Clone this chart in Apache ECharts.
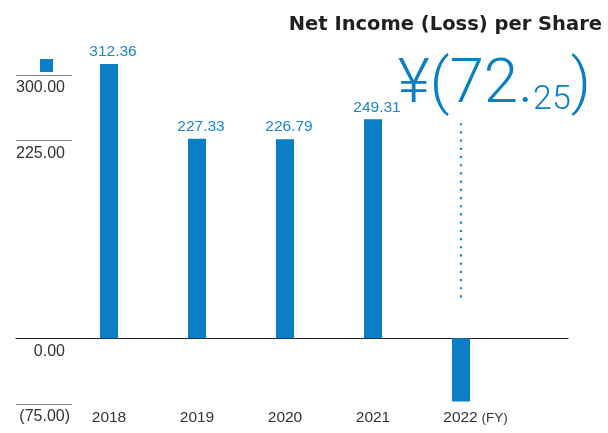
<!DOCTYPE html>
<html>
<head>
<meta charset="utf-8">
<script src="https://cdn.jsdelivr.net/npm/echarts@6/dist/echarts.min.js"></script>
<style>
html,body{margin:0;padding:0;background:#fff;}
#chart{width:608px;height:433px;}
</style>
</head>
<body>
<div id="chart"></div>
<script>
// ---- data ----
var categories = ['2018', '2019', '2020', '2021', '2022 (FY)'];
var netIncomePerShare = [312.36, 227.33, 226.79, 249.31, -72.25];
var yTickValues = [-75, 225, 300];
var yLabelValues = [-75, 0, 225, 300];
var headlineValue = -72.25;
var dottedRange = [245, 46];
var seriesName = 'Net Income (Loss) per Share';

var BLUE = '#0a7ec6';
var FONT = 'Liberation Sans, Arial, sans-serif';

function fmtAxis(v) {
  if (v < 0) return '(' + Math.abs(v).toFixed(2) + ')';
  return v.toFixed(2) + '{sp| }';
}

var absParts = Math.abs(headlineValue).toFixed(2).split('.');
var headlineText = '{a|¥' + (headlineValue < 0 ? '(' : '') + absParts[0] + '.}{b|' + absParts[1] + '}{a|' + (headlineValue < 0 ? ')' : '') + '}';

var chart = echarts.init(document.getElementById('chart'), null, {renderer: 'canvas'});

var option = {
  animation: false,
  title: [
    {
      text: seriesName,
      right: 1,
      top: 10,
      textStyle: {fontFamily: 'DejaVu Sans, sans-serif', fontSize: 19.5, fontWeight: 'bold', color: '#231f20'}
    },
    {
      text: headlineText,
      right: 12,
      top: 42,
      textStyle: {
        rich: {
          a: {fontFamily: 'Roboto, sans-serif', fontWeight: 300, fontSize: 62, color: BLUE, lineHeight: 70, verticalAlign: 'bottom'},
          b: {fontFamily: 'Roboto, sans-serif', fontWeight: 300, fontSize: 34, color: BLUE, lineHeight: 66, verticalAlign: 'bottom'}
        }
      }
    }
  ],
  legend: {
    data: [seriesName],
    left: 35,
    top: 54,
    icon: 'rect',
    itemWidth: 13,
    itemHeight: 13,
    formatter: function () { return ''; },
    selectedMode: false
  },
  grid: [
    {left: 65, right: 103, top: 31, bottom: 29},
    {left: 16, right: 40, top: 31, bottom: 29}
  ],
  xAxis: [
    {
      type: 'category',
      gridIndex: 0,
      data: categories,
      boundaryGap: true,
      axisLine: {show: false, onZero: false},
      axisTick: {show: false},
      axisLabel: {
        interval: 0,
        margin: 6,
        fontFamily: FONT,
        fontSize: 15.5,
        color: '#333',
        formatter: function (v) {
          var i = v.indexOf(' (');
          if (i >= 0) return '{sp| }' + v.slice(0, i) + '{fy|' + v.slice(i) + '}';
          return v;
        },
        rich: {
          sp: {width: 29, fontSize: 13},
          fy: {fontFamily: FONT, fontSize: 13.5, color: '#333'}
        }
      },
      splitLine: {show: false}
    },
    {
      type: 'value',
      gridIndex: 1,
      min: 0,
      max: 1,
      axisLine: {show: true, onZero: true, lineStyle: {color: '#231f20', width: 1.2}},
      axisTick: {show: false},
      axisLabel: {show: false},
      splitLine: {show: false}
    }
  ],
  yAxis: [
    {
      type: 'value',
      gridIndex: 0,
      min: -75,
      max: 350,
      show: false,
      splitLine: {show: false}
    },
    {
      type: 'value',
      gridIndex: 1,
      min: -75,
      max: 350,
      axisLine: {show: false},
      splitLine: {show: false},
      axisTick: {
        show: true,
        inside: true,
        length: 56,
        customValues: yTickValues,
        lineStyle: {color: '#8a8a8a', width: 1.2}
      },
      axisLabel: {
        show: true,
        inside: true,
        margin: 54,
        align: 'right',
        verticalAlign: 'top',
        padding: [5, 0, 0, 0],
        customValues: yLabelValues,
        fontFamily: FONT,
        fontSize: 16,
        color: '#333',
        formatter: fmtAxis,
        rich: {sp: {width: 5, fontSize: 16}}
      }
    }
  ],
  series: [
    {
      name: seriesName,
      type: 'bar',
      xAxisIndex: 0,
      yAxisIndex: 0,
      data: netIncomePerShare,
      barWidth: 18,
      itemStyle: {color: BLUE},
      label: {
        show: true,
        position: 'top',
        distance: 4,
        offset: [4, 0],
        fontFamily: FONT,
        fontSize: 15.5,
        color: '#1a86cc',
        formatter: function (p) { return p.value > 0 ? p.value.toFixed(2) : ''; }
      },
      markLine: {
        silent: true,
        symbol: 'none',
        label: {show: false},
        lineStyle: {color: '#1a86cc', width: 2.2, type: [2.2, 6], cap: 'butt'},
        data: [[
          {coord: [categories[4], dottedRange[0]]},
          {coord: [categories[4], dottedRange[1]]}
        ]]
      }
    }
  ]
};
chart.setOption(option);
</script>
</body>
</html>
